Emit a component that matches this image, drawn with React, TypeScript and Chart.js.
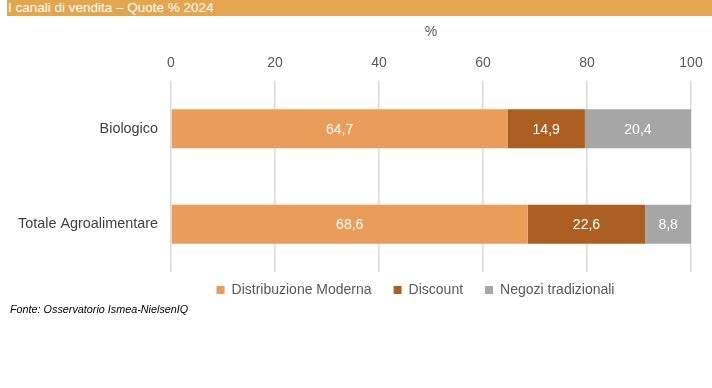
import React, { useEffect, useRef } from "react";
import { Chart, registerables } from "chart.js";

Chart.register(...registerables);

const categories = ["Biologico", "Totale Agroalimentare"];
const seriesNames = ["Distribuzione Moderna", "Discount", "Negozi tradizionali"];
const distribuzioneModerna = [64.7, 68.6];
const discount = [14.9, 22.6];
const negoziTradizionali = [20.4, 8.8];
const seriesColors = ["#E99D58", "#AD5F22", "#A6A6A6"];
const xTicks = [0, 20, 40, 60, 80, 100];

const FONT = "'Liberation Sans', Arial, Helvetica, sans-serif";

const valueLabels = {
  id: "valueLabels",
  afterDatasetsDraw(chart: any) {
    const ctx = chart.ctx;
    ctx.save();
    ctx.font = `14px ${FONT}`;
    ctx.fillStyle = "#FFFFFF";
    ctx.textAlign = "center";
    ctx.textBaseline = "middle";
    chart.data.datasets.forEach((ds: any, i: number) => {
      const meta = chart.getDatasetMeta(i);
      meta.data.forEach((bar: any, j: number) => {
        const v = ds.data[j];
        const x = (bar.x + bar.base) / 2;
        ctx.fillText(v.toFixed(1).replace(".", ","), x, bar.y + 1);
      });
    });
    ctx.restore();
  },
};

const legendShift = {
  id: "legendShift",
  afterLayout(chart: any) {
    const lg = chart.legend;
    if (!lg) return;
    lg.left = 140;
    const dy = chart.chartArea.bottom - 11 - lg.top;
    lg.top += dy;
    lg.bottom += dy;
  },
};

export default function App() {
  const ref = useRef<HTMLCanvasElement>(null);
  useEffect(() => {
    if (!ref.current) return;
    const chart = new Chart(ref.current, {
      type: "bar",
      data: {
        labels: categories,
        datasets: [
          { label: seriesNames[0], data: distribuzioneModerna, backgroundColor: seriesColors[0] },
          { label: seriesNames[1], data: discount, backgroundColor: seriesColors[1] },
          { label: seriesNames[2], data: negoziTradizionali, backgroundColor: seriesColors[2] },
        ],
      },
      options: {
        indexAxis: "y",
        animation: false,
        responsive: true,
        maintainAspectRatio: false,
        layout: { padding: { left: 0, right: 21, top: 20, bottom: 70 } },
        datasets: { bar: { barPercentage: 0.82, categoryPercentage: 0.5 } },
        scales: {
          x: {
            position: "top",
            stacked: true,
            min: 0,
            max: 100,
            afterBuildTicks: (s: any) => {
              s.ticks = xTicks.map((v) => ({ value: v }));
            },
            afterFit: (s: any) => {
              s.height = 61;
            },
            border: { display: false },
            grid: { color: "#D9D9D9", lineWidth: 1.5, drawTicks: false },
            ticks: { color: "#595959", font: { family: FONT, size: 14 }, padding: 9 },
            title: {
              display: true,
              text: "%",
              color: "#595959",
              font: { family: FONT, size: 14 },
              padding: { top: 4, bottom: 0 },
            },
          },
          y: {
            stacked: true,
            afterFit: (s: any) => {
              s.width = 171;
            },
            border: { display: false },
            grid: { display: false, drawTicks: false },
            ticks: { color: "#404040", font: { family: FONT, size: 14.4 }, padding: 13 },
          },
        },
        plugins: {
          legend: {
            position: "bottom",
            labels: {
              boxWidth: 8,
              boxHeight: 8,
              padding: 22,
              color: "#595959",
              font: { family: FONT, size: 14 },
            },
          },
          tooltip: { enabled: false },
        },
      },
      plugins: [valueLabels, legendShift],
    });
    return () => chart.destroy();
  }, []);

  return (
    <div style={{ position: "absolute", left: 0, top: 0, width: 712, height: 388, background: "#FFFFFF" }}>
      <canvas ref={ref} />
      <div
        style={{
          position: "absolute",
          left: 7,
          right: 0,
          top: 0,
          height: 16,
          background: "#E3A64E",
          color: "#FFFFFF",
          fontFamily: FONT,
          fontSize: 13.5,
          lineHeight: "15px",
          paddingLeft: 1,
          whiteSpace: "nowrap",
        }}
      >
        I canali di vendita – Quote % 2024
      </div>
      <div
        style={{
          position: "absolute",
          left: 10,
          top: 303,
          color: "#000000",
          fontFamily: FONT,
          fontSize: 10.8,
          fontStyle: "italic",
        }}
      >
        Fonte: Osservatorio Ismea-NielsenIQ
      </div>
    </div>
  );
}
